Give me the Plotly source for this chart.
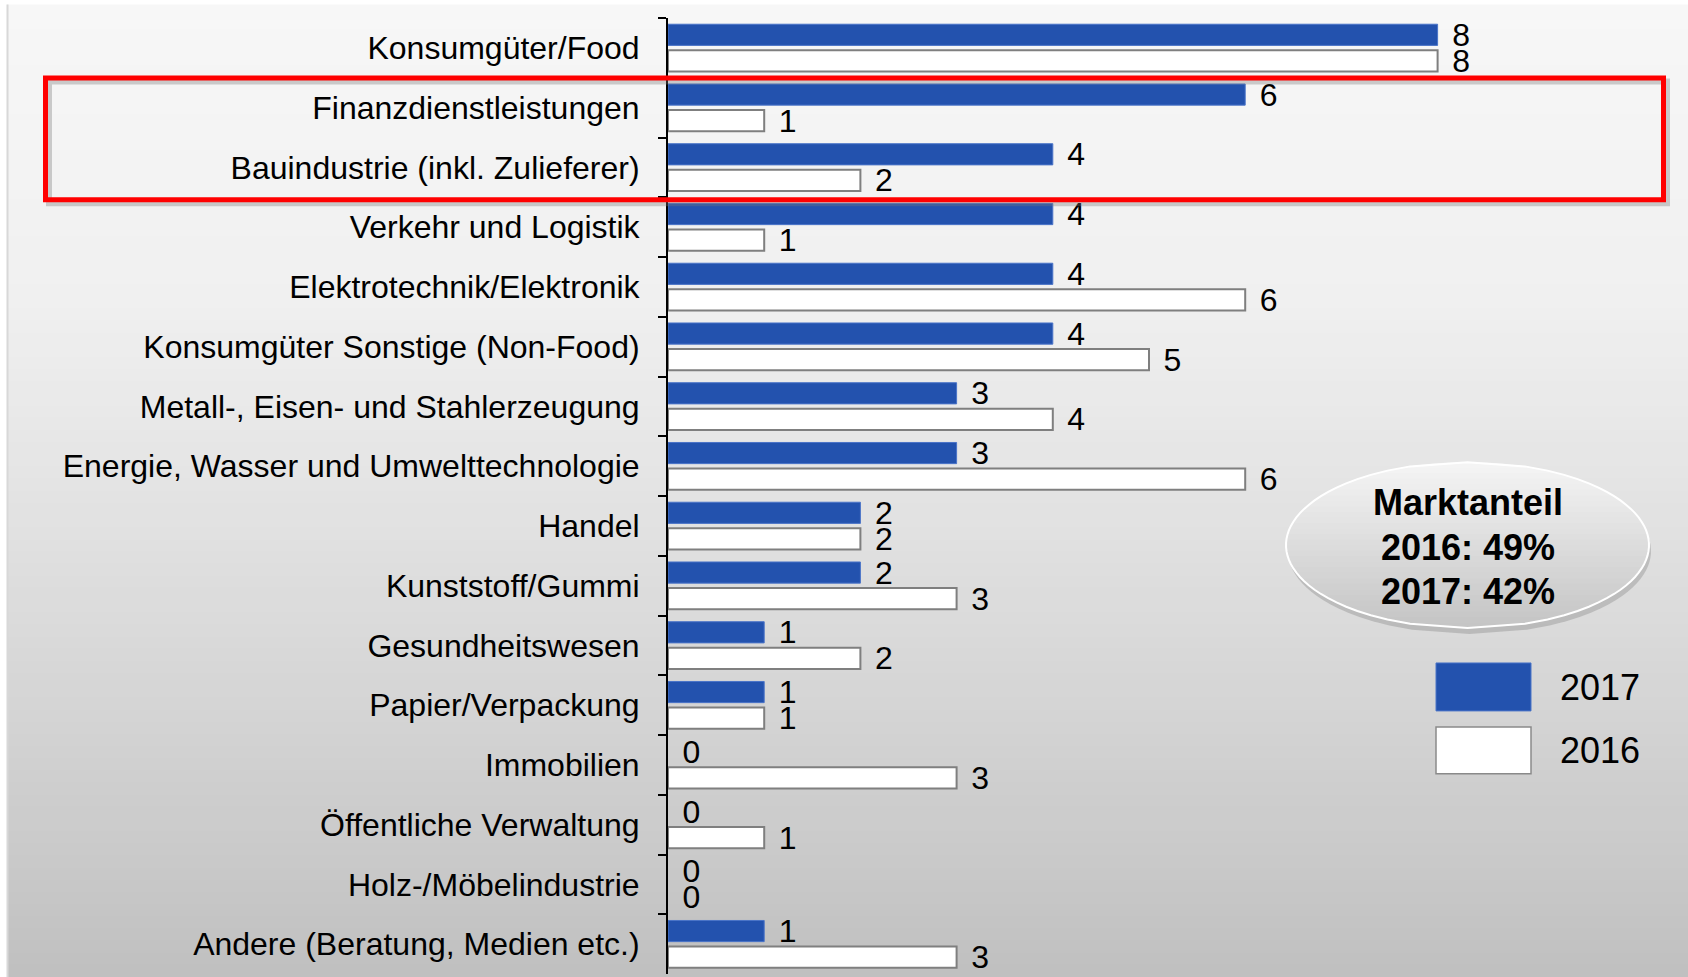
import plotly.graph_objects as go
import numpy as np

categories = [
    "Konsumgüter/Food",
    "Finanzdienstleistungen",
    "Bauindustrie (inkl. Zulieferer)",
    "Verkehr und Logistik",
    "Elektrotechnik/Elektronik",
    "Konsumgüter Sonstige (Non-Food)",
    "Metall-, Eisen- und Stahlerzeugung",
    "Energie, Wasser und Umwelttechnologie",
    "Handel",
    "Kunststoff/Gummi",
    "Gesundheitswesen",
    "Papier/Verpackung",
    "Immobilien",
    "Öffentliche Verwaltung",
    "Holz-/Möbelindustrie",
    "Andere (Beratung, Medien etc.)",
]
values_2017 = [8, 6, 4, 4, 4, 4, 3, 3, 2, 2, 1, 1, 0, 0, 0, 1]
values_2016 = [8, 1, 2, 1, 6, 5, 4, 6, 2, 3, 2, 1, 3, 1, 0, 3]
series_names = ["2017", "2016"]
box_lines = ["Marktanteil", "2016: 49%", "2017: 42%"]

W, H = 1688, 977
OFF = 0  # body margin removed via post_script
SL, SR, ST, SB = 668, 1688, 17.5, 974.3
L, R, T, B = SL - OFF, SR - OFF, ST - OFF, SB - OFF
PX_PER_UNIT = 96.2


def xp(sx):
    return (sx - OFF - L) / (R - L)


def yp(sy):
    return (B - (sy - OFF)) / (B - T)


BLUE = "#2352AE"
LABEL_PREFIX = "\u00a0\u200a"
fig = go.Figure()
fig.add_trace(go.Bar(
    y=categories, x=values_2017, name=series_names[0], orientation="h",
    marker=dict(color=BLUE, line=dict(color="#4a74c8",
                                      width=[1 if v > 0 else 0 for v in values_2017])),
    texttemplate=LABEL_PREFIX + "%{x}", textposition="outside", constraintext="none",
    textfont=dict(family="Liberation Sans", size=32, color="black"),
    cliponaxis=False, showlegend=False, hoverinfo="skip",
))
fig.add_trace(go.Bar(
    y=categories, x=values_2016, name=series_names[1], orientation="h",
    marker=dict(color="white", line=dict(color="#7f7f7f",
                                         width=[2 if v > 0 else 0 for v in values_2016])),
    texttemplate=LABEL_PREFIX + "%{x}", textposition="outside", constraintext="none",
    textfont=dict(family="Liberation Sans", size=32, color="black"),
    cliponaxis=False, showlegend=False, hoverinfo="skip",
))

shapes = []
# background gradient
stops_y = [4, 300, 500, 700, 977]
stops_c = [247, 240, 227, 213, 192]
n = 80
ys = np.linspace(4, 977, n + 1)
for i in range(n):
    ym = (ys[i] + ys[i + 1]) / 2
    c = int(round(np.interp(ym, stops_y, stops_c)))
    shapes.append(dict(type="rect", xref="paper", yref="paper",
                       x0=xp(7), x1=xp(1690), y0=yp(ys[i]), y1=yp(ys[i + 1] + 0.8),
                       fillcolor=f"rgb({c},{c},{c})", line=dict(width=0), layer="below"))
shapes.append(dict(type="line", xref="paper", yref="paper", x0=xp(7.5), x1=xp(7.5),
                   y0=yp(4), y1=yp(980), line=dict(color="#d8d8d8", width=2), layer="below"))

# red highlight box with shadow
shapes.append(dict(type="rect", xref="paper", yref="paper",
                   x0=xp(49), x1=xp(1667), y0=yp(81), y1=yp(203),
                   line=dict(color="rgba(120,120,120,0.35)", width=6), layer="above"))
shapes.append(dict(type="rect", xref="paper", yref="paper",
                   x0=xp(45.5), x1=xp(1663.5), y0=yp(77.5), y1=yp(199.5),
                   line=dict(color="#FF0000", width=5), layer="above"))

# ellipse with vertical gradient
cx, cy, rx, ry = 1467.5, 545, 181.5, 83


def ell_path(y0, y1, dx=0, dy=0, steps=12):
    pts = []
    for yy in np.linspace(y0, y1, steps):
        t = np.clip((yy - cy) / ry, -1, 1)
        pts.append((cx - rx * np.sqrt(1 - t * t) + dx, yy + dy))
    for yy in np.linspace(y1, y0, steps):
        t = np.clip((yy - cy) / ry, -1, 1)
        pts.append((cx + rx * np.sqrt(1 - t * t) + dx, yy + dy))
    return "M " + " L ".join(f"{xp(a):.5f},{yp(b):.5f}" for a, b in pts) + " Z"


shapes.append(dict(type="path", xref="paper", yref="paper",
                   path=ell_path(cy - ry, cy + ry, dx=2, dy=6, steps=40),
                   fillcolor="rgba(90,90,90,0.25)", line=dict(width=0), layer="above"))
nb = 30
eb = np.linspace(cy - ry, cy + ry, nb + 1)
for i in range(nb):
    f = (i + 0.5) / nb
    c = int(round(245 - (245 - 196) * f))
    shapes.append(dict(type="path", xref="paper", yref="paper",
                       path=ell_path(eb[i], min(eb[i + 1] + 0.8, cy + ry)),
                       fillcolor=f"rgb({c},{c},{c})", line=dict(width=0), layer="above"))
shapes.append(dict(type="path", xref="paper", yref="paper",
                   path=ell_path(cy - ry, cy + ry, steps=40),
                   fillcolor="rgba(0,0,0,0)", line=dict(color="white", width=2), layer="above"))

# legend boxes
shapes.append(dict(type="rect", xref="paper", yref="paper",
                   x0=xp(1436), x1=xp(1531), y0=yp(663), y1=yp(711),
                   fillcolor=BLUE, line=dict(color="#4a74c8", width=1), layer="above"))
shapes.append(dict(type="rect", xref="paper", yref="paper",
                   x0=xp(1436), x1=xp(1531), y0=yp(727), y1=yp(774),
                   fillcolor="white", line=dict(color="#8a8a8a", width=1.5), layer="above"))

annotations = []
for txt, yy in zip(box_lines, [502, 547, 591]):
    annotations.append(dict(text=f"<b>{txt}</b>", xref="paper", yref="paper",
                            x=xp(cx), y=yp(yy), xanchor="center", yanchor="middle",
                            showarrow=False,
                            font=dict(family="Liberation Sans", size=36, color="black")))
for txt, yy in zip(series_names, [688, 751]):
    annotations.append(dict(text=txt, xref="paper", yref="paper",
                            x=xp(1558), y=yp(yy), xanchor="left", yanchor="middle",
                            showarrow=False,
                            font=dict(family="Liberation Sans", size=36, color="black")))

fig.update_layout(
    width=W, height=H,
    margin=dict(l=L, r=W - R, t=T, b=H - B, pad=0, autoexpand=False),
    paper_bgcolor="white", plot_bgcolor="rgba(0,0,0,0)",
    barmode="group", bargap=0.125, bargroupgap=0.19,
    xaxis=dict(range=[0, (R - L) / PX_PER_UNIT], visible=False, fixedrange=True,
               automargin=False),
    yaxis=dict(
        categoryorder="array", categoryarray=categories, autorange="reversed",
        showline=True, linecolor="black", linewidth=2, automargin=False,
        ticks="outside", tickson="boundaries", ticklen=8, tickcolor="black", tickwidth=2,
        ticklabelstandoff=20, showgrid=False, zeroline=False, fixedrange=True,
        tickfont=dict(family="Liberation Sans", size=32, color="black"),
    ),
    shapes=shapes, annotations=annotations, showlegend=False,
)

fig.write_html("out.html", config={"displayModeBar": False},
               post_script="document.body.style.margin='0';document.body.style.overflow='hidden';")
